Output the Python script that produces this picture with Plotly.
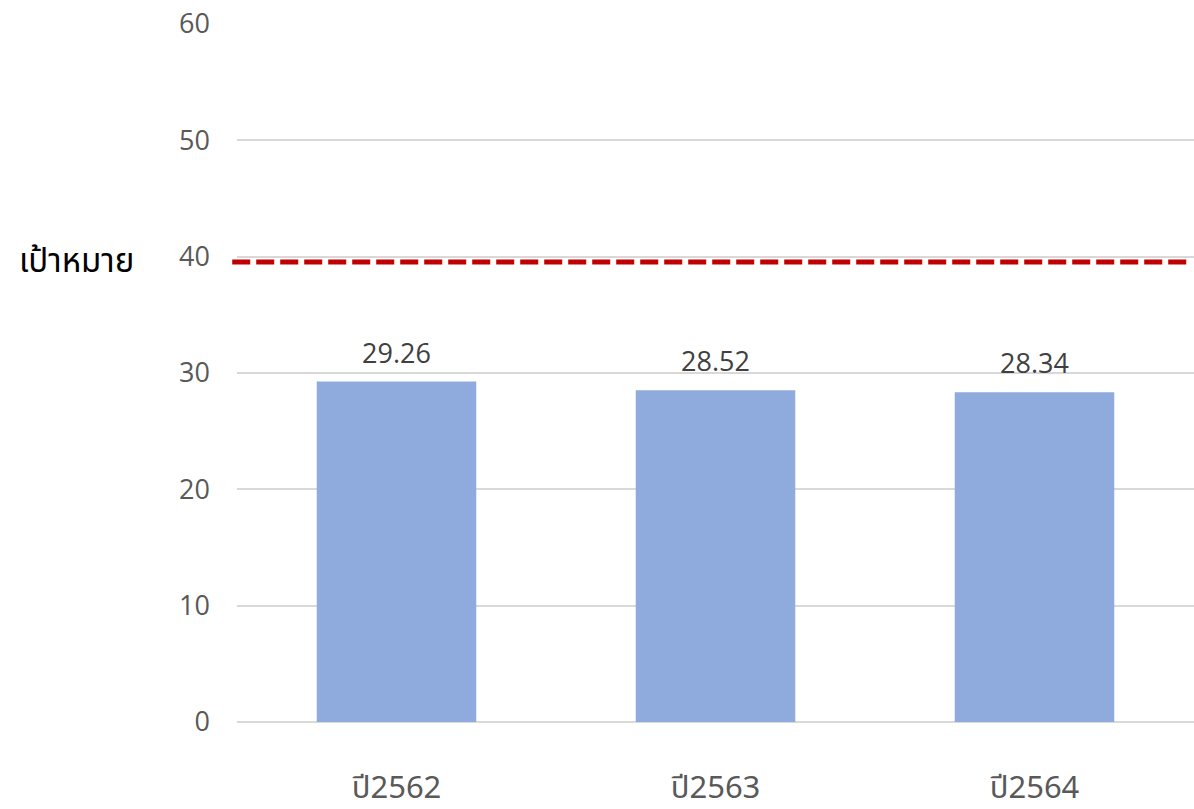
import plotly.graph_objects as go

categories = ["ปี2562", "ปี2563", "ปี2564"]
values = [29.26, 28.52, 28.34]
value_labels = ["29.26", "28.52", "28.34"]
target_value = 39.55
target_label = "เป้าหมาย"
y_ticks = [0, 10, 20, 30, 40, 50, 60]

fig = go.Figure()
fig.add_trace(go.Bar(
    x=categories, y=values, width=0.5,
    marker=dict(color="#8FAADC", line=dict(width=0)),
))

for cat, val, lab in zip(categories, values, value_labels):
    fig.add_annotation(x=cat, y=val, text=lab, showarrow=False,
                       xanchor="center", yanchor="bottom", yshift=9,
                       font=dict(family="Open Sans", size=27, color="#404040"))

fig.add_shape(type="line", xref="paper", yref="y",
              x0=-0.005, x1=0.992, y0=target_value, y1=target_value,
              line=dict(color="#C00000", width=5, dash="18px,6px"))

fig.add_annotation(text=target_label, xref="paper", yref="y",
                   x=-0.106, y=target_value, xanchor="right", yanchor="middle",
                   showarrow=False,
                   font=dict(family="Noto Sans Thai, Noto Sans, sans-serif", size=33, color="#000000"))

fig.update_layout(
    width=1194, height=809,
    margin=dict(l=237, r=0, t=24, b=87, autoexpand=False),
    paper_bgcolor="white", plot_bgcolor="white",
    showlegend=False,
    xaxis=dict(range=[-0.5, 2.5], showgrid=False, showline=False, zeroline=False,
               ticks="", ticklabelstandoff=44, automargin=False,
               tickfont=dict(family="Noto Sans Thai, Noto Sans, sans-serif", size=31, color="#595959")),
    yaxis=dict(range=[0, 60], tickvals=y_ticks, showgrid=True, gridcolor="#D9D9D9", gridwidth=2,
               zeroline=True, zerolinecolor="#D9D9D9", zerolinewidth=2, showline=False,
               ticks="", ticklabelstandoff=26, automargin=False,
               tickfont=dict(family="Open Sans", size=27, color="#595959")),
)

fig.write_html("out.html", config={"displayModeBar": False},
               post_script="document.body.style.margin='0';document.body.style.overflow='hidden';")
